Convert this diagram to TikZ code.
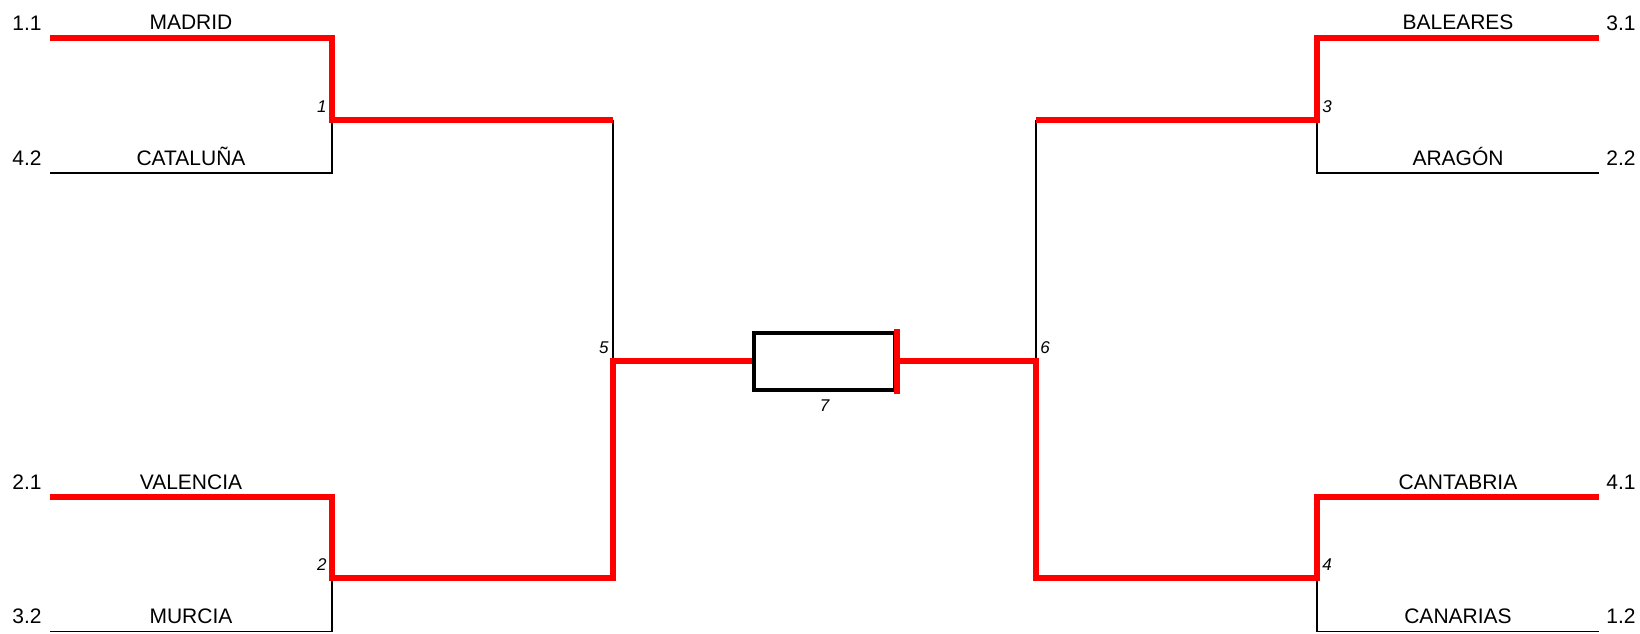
\documentclass[tikz,border=0pt]{standalone}
\usepackage{fontspec}
\setmainfont{Liberation Sans}
\usetikzlibrary{positioning}

\begin{document}
\begin{tikzpicture}[x=0.5pt,y=-0.5pt,
    win/.style={draw=red,line width=2.8pt},
    lose/.style={draw=black,line width=0.8pt},
    team/.style={font=\fontsize{10.5}{12}\selectfont,anchor=base,inner sep=0pt},
    seed/.style={font=\fontsize{10.5}{12}\selectfont,inner sep=0pt},
    match/.style={font=\fontsize{8.5}{10}\selectfont\itshape,inner sep=0pt}]

    \useasboundingbox (0,0) rectangle (1640,633);

    % Eckpunkte links
    \coordinate (A) at (50,37.8);   \coordinate (B) at (50,173);
    \coordinate (C) at (50,497);    \coordinate (D) at (50,631.5);
    \coordinate (M1) at (332,120);  \coordinate (M2) at (332,578);
    \coordinate (M5) at (613,361);
    % Eckpunkte rechts
    \coordinate (E) at (1599,37.8); \coordinate (F) at (1599,173);
    \coordinate (G) at (1599,497);  \coordinate (H) at (1599,631.5);
    \coordinate (M3) at (1317,120); \coordinate (M4) at (1317,578);
    \coordinate (M6) at (1036,361);

    % Finale
    \node[draw, line width=2pt, minimum width=70.5pt, minimum height=28.5pt,
          inner sep=0pt] (F7) at (824.5,361.5) {};
    \node[match, anchor=base] (n7) at (824.5,411) {7};

    % Linien (Verlierer)
    \draw[lose] (M1) |- (B);
    \draw[lose] (M2) |- (D);
    \draw[lose] (M3) |- (F);
    \draw[lose] (M4) |- (H);
    \draw[lose] (M1 -| M5) -- (M5);
    \draw[lose] (M3 -| M6) -- (M6);

    % Linien (Sieger)
    \draw[win] (A) -| (M1) -- (M1 -| M5);
    \draw[win] (C) -| (M2) -| (M5) -- (M5 -| F7.west);
    \draw[win] (E) -| (M3) -- (M3 -| M6);
    \draw[win] (G) -| (M4) -| (M6) -- (M6 -| F7.east);
    \draw[win] ([yshift=1pt]F7.north east) -- ([yshift=-1pt]F7.south east);

    % Mannschaften
    \node[team] (madrid)   at (191,29)   {MADRID};
    \node[team] (cataluna) at (191,165)  {CATALUÑA};
    \node[team] (valencia) at (191,489)  {VALENCIA};
    \node[team] (murcia)   at (191,623.5) {MURCIA};
    \node[team] (baleares) at (1458,29)  {BALEARES};
    \node[team] (aragon)   at (1458,165) {ARAGÓN};
    \node[team] (cantabria) at (1458,489) {CANTABRIA};
    \node[team] (canarias) at (1458,623.5) {CANARIAS};

    % Setzliste
    \node[seed, anchor=base east] (s11) at (42,30)    {1.1};
    \node[seed, anchor=base east] (s42) at (42,165)   {4.2};
    \node[seed, anchor=base east] (s21) at (42,489)   {2.1};
    \node[seed, anchor=base east] (s32) at (42,623.5) {3.2};
    \node[seed, anchor=base west] (s31) at (1606,30)    {3.1};
    \node[seed, anchor=base west] (s22) at (1606,165)   {2.2};
    \node[seed, anchor=base west] (s41) at (1606,489)   {4.1};
    \node[seed, anchor=base west] (s12) at (1606,623.5) {1.2};

    % Spielnummern
    \node[match, anchor=base east] (n1) at (327,112) {1};
    \node[match, anchor=base east] (n2) at (327,570) {2};
    \node[match, anchor=base west] (n3) at (1322,112) {3};
    \node[match, anchor=base west] (n4) at (1322,570) {4};
    \node[match, anchor=base east] (n5) at (609,353) {5};
    \node[match, anchor=base west] (n6) at (1040,353) {6};

\end{tikzpicture}
\end{document}
